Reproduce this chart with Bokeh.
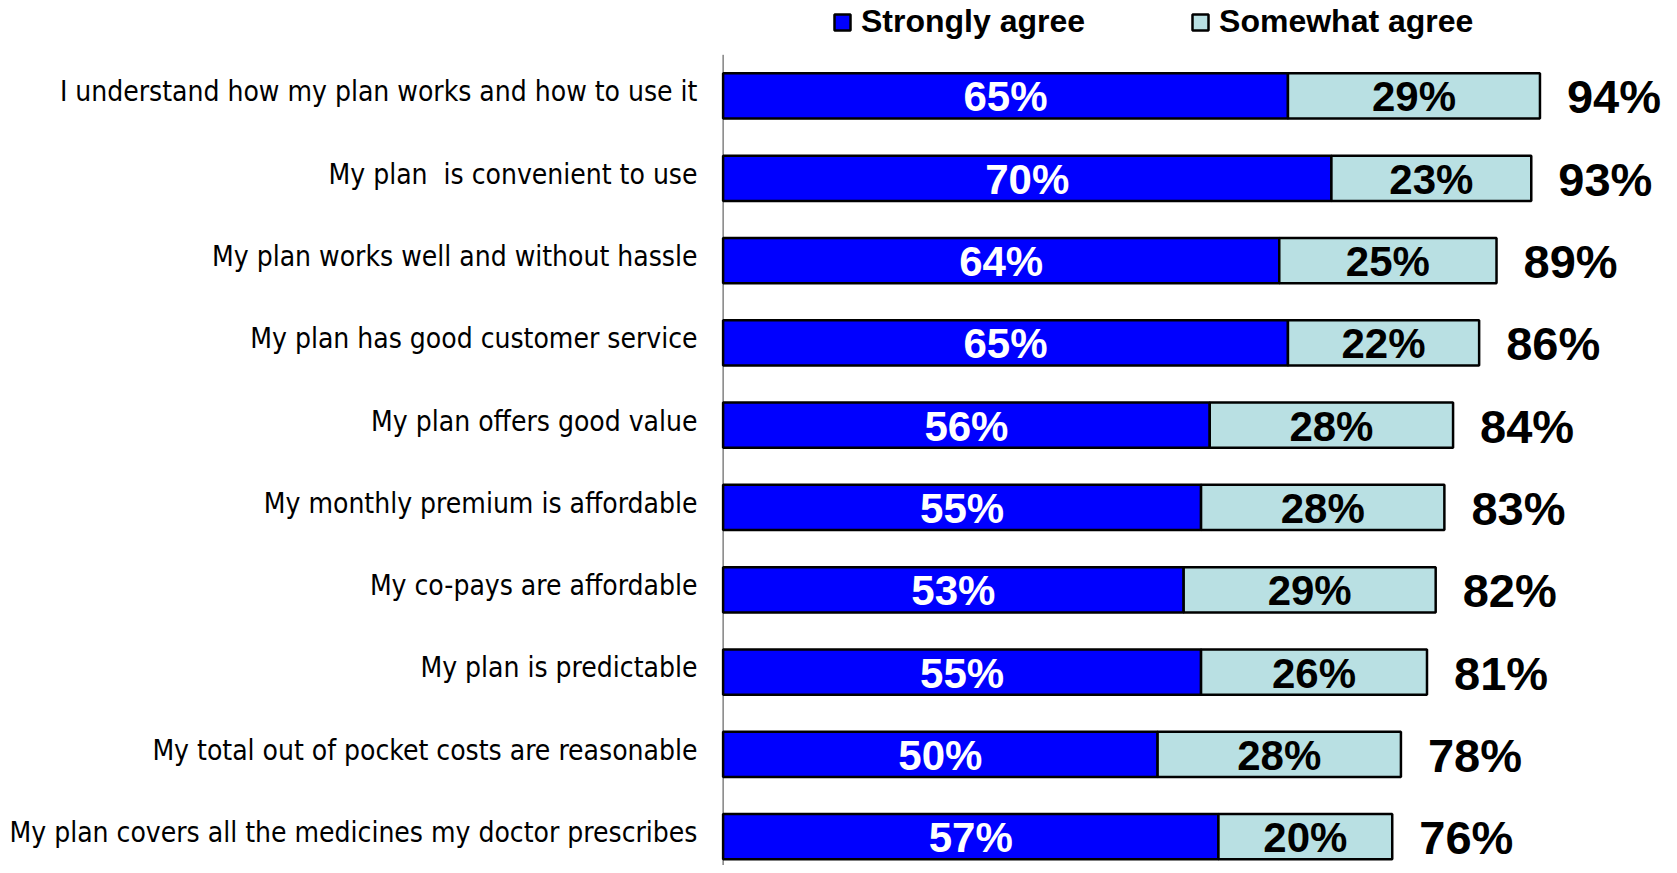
from bokeh.plotting import figure
from bokeh.models import Range1d, FixedTicker, Legend, LegendItem, ColumnDataSource
from bokeh.core.properties import value
from bokeh.embed import file_html
from bokeh.resources import INLINE

categories = [
    "I understand how my plan works and how to use it",
    "My plan\u00a0 is convenient to use",
    "My plan works well and without hassle",
    "My plan has good customer service",
    "My plan offers good value",
    "My monthly premium is affordable",
    "My co-pays are affordable",
    "My plan is predictable",
    "My total out of pocket costs are reasonable",
    "My plan covers all the medicines my doctor prescribes",
]
strongly = [65, 70, 64, 65, 56, 55, 53, 55, 50, 57]
somewhat = [29, 23, 25, 22, 28, 28, 29, 26, 28, 20]
totals = [94, 93, 89, 86, 84, 83, 82, 81, 78, 76]

BLUE = "#0000FF"
LIGHT = "#B9E0E3"
BOLD = "Liberation Sans"
NARROW = "DejaVu Sans Condensed, sans-serif"

rows = list(range(len(categories)))
ends = [s + w for s, w in zip(strongly, somewhat)]
src = ColumnDataSource(dict(
    y=rows,
    strong=strongly,
    some=somewhat,
    end=ends,
    mid1=[s / 2 for s in strongly],
    mid2=[s + w / 2 for s, w in zip(strongly, somewhat)],
    lab1=[f"{v}%" for v in strongly],
    lab2=[f"{v}%" for v in somewhat],
    labt=[f"{v}%" for v in totals],
))

W, H = 1669, 865
YTOP, YBOT = -1.160, 9.350
p = figure(width=W, height=H, output_backend="svg", toolbar_location=None,
           x_range=Range1d(-0.3, 108.906), y_range=Range1d(YBOT, YTOP),
           min_border_left=720, min_border_right=0, min_border_top=0, min_border_bottom=0)
p.outline_line_color = None
p.xgrid.visible = False
p.ygrid.visible = False
p.xaxis.visible = False

yax = p.yaxis[0]
ticks = [r - 0.05 for r in rows]
yax.ticker = FixedTicker(ticks=ticks)
yax.major_label_overrides = {t: c for t, c in zip(ticks, categories)}
yax.axis_line_color = None
yax.major_tick_line_color = None
yax.minor_tick_line_color = None
yax.major_tick_out = 0
yax.major_tick_in = 0
yax.minor_tick_out = 0
yax.major_label_standoff = 23
yax.major_label_text_font = NARROW
yax.major_label_text_font_size = "28px"
yax.major_label_text_color = "black"
yax.major_label_text_baseline = "alphabetic"

# axis line
p.segment(x0=[0], y0=[-0.5], x1=[0], y1=[YBOT], line_color="#444444", line_width=1)

r1 = p.hbar(y="y", left=0, right="strong", height=0.55, source=src,
            fill_color=BLUE, line_color="black", line_width=2.5)
r2 = p.hbar(y="y", left="strong", right="end", height=0.55, source=src,
            fill_color=LIGHT, line_color="black", line_width=2.5)

p.text(x="mid1", y="y", text="lab1", source=src, text_align="center",
       text_baseline="alphabetic", y_offset=1, text_color="white",
       text_font=value(BOLD), text_font_style="bold", text_font_size="42px")
p.text(x="mid2", y="y", text="lab2", source=src, text_align="center",
       text_baseline="alphabetic", y_offset=1, text_color="black",
       text_font=value(BOLD), text_font_style="bold", text_font_size="42px")
p.text(x="end", y="y", text="labt", source=src, text_align="left",
       text_baseline="alphabetic", x_offset=27, y_offset=1, text_color="black",
       text_font=value(BOLD), text_font_style="bold", text_font_size="47px")

legend = Legend(items=[LegendItem(label="Strongly agree", renderers=[r1]),
                       LegendItem(label="Somewhat agree", renderers=[r2])],
                orientation="horizontal", location=(112, 825),
                padding=0, margin=0, spacing=105, label_standoff=9,
                glyph_width=20, glyph_height=20,
                border_line_color=None, background_fill_alpha=0,
                label_text_font=BOLD, label_text_font_style="bold",
                label_text_font_size="32px", label_text_color="black")
p.add_layout(legend)

open("out.html", "w").write(file_html(p, INLINE))
